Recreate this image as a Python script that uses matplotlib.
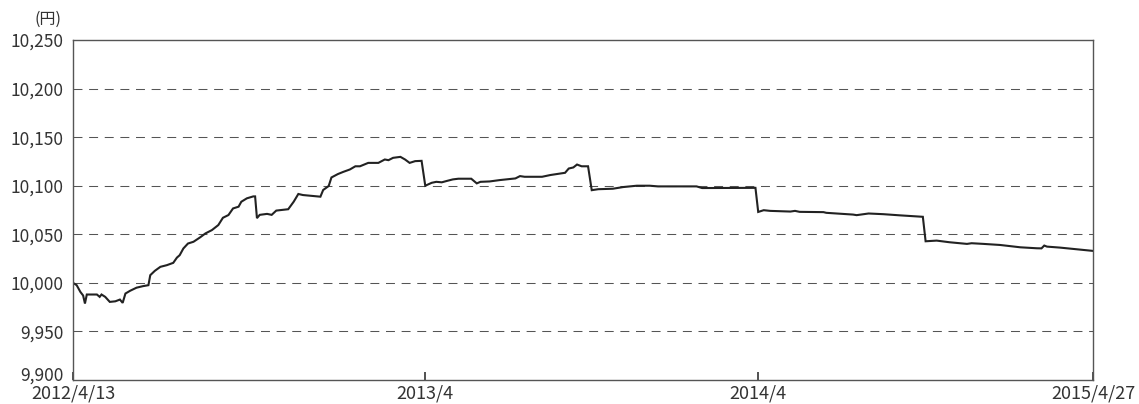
import matplotlib
matplotlib.use('Agg')
import matplotlib.pyplot as plt
import matplotlib.ticker as mticker
import matplotlib.transforms as mtransforms
import pandas as pd

plt.rcParams['font.family'] = ['Noto Sans CJK JP', 'DejaVu Sans']

# 基準価額の推移（設定日からの経過日数, 円）
start_date = '2012-04-13'
days = [0, 4, 8, 11, 13, 15, 26, 29, 31, 35, 40, 46, 51, 54, 57, 62, 69, 76, 82,
        84, 89, 95, 102, 109, 113, 116, 120, 125, 131, 138, 144, 151, 158, 163,
        169, 174, 180, 183, 189, 196, 198, 200, 203, 211, 216, 221, 234, 240,
        245, 250, 269, 272, 278, 281, 288, 294, 301, 307, 312, 321, 332, 339,
        343, 348, 356, 361, 366, 372, 379, 383, 390, 395, 401, 406, 413, 419,
        433, 439, 443, 453, 464, 481, 486, 491, 510, 519, 535, 539, 544, 548,
        553, 560, 564, 571, 587, 598, 613, 627, 636, 678, 684, 742, 745, 751,
        758, 780, 785, 790, 816, 819, 848, 852, 865, 881, 899, 924, 927, 939,
        953, 972, 977, 990, 1008, 1030, 1048, 1053, 1056, 1059, 1073, 1091, 1109]
nav = [10000, 9997.6, 9990.7, 9987, 9978.7, 9988, 9988, 9985.6, 9988, 9985.6,
       9980.4, 9981, 9982.8, 9979.4, 9989, 9991.8, 9995, 9996.6, 9997.6,
       10007.9, 10012.4, 10016.5, 10018.2, 10020.6, 10026, 10028.5, 10035.4,
       10040.5, 10042.3, 10046.7, 10050.9, 10054.3, 10059.5, 10067, 10069.8,
       10076.6, 10078.4, 10083.5, 10087, 10089, 10089, 10066.6, 10070, 10071,
       10070, 10074.4, 10075.8, 10083.6, 10091.5, 10090.4, 10088.7, 10095.6,
       10099.7, 10108.5, 10112, 10114.3, 10116.7, 10120, 10120, 10123.5,
       10123.5, 10127, 10126.3, 10128.7, 10129.7, 10127, 10123.5, 10125.3,
       10125.6, 10100, 10103, 10104, 10103.5, 10104.8, 10106.5, 10107.2,
       10107.2, 10102.4, 10104, 10104.4, 10105.8, 10107.5, 10109.9, 10109.2,
       10109.2, 10111, 10113.3, 10117.7, 10118.8, 10121.8, 10120, 10120,
       10095.4, 10096.4, 10096.9, 10098.6, 10100, 10100, 10099.3, 10099.3,
       10097.6, 10097.8, 10073, 10074.8, 10074.1, 10073.4, 10074.1, 10073.1,
       10072.8, 10072.1, 10070.3, 10069.7, 10071.4, 10070.7, 10069.5, 10068,
       10042.8, 10043.5, 10041.8, 10040.1, 10040.8, 10040.1, 10039, 10036.6,
       10035.6, 10035.5, 10038.4, 10037.3, 10036.3, 10034.6, 10032.9]

tick_days = [0, 383, 745, 1109]
tick_labels = ['2012/4/13', '2013/4', '2014/4', '2015/4/27']
y_ticks = [9900, 9950, 10000, 10050, 10100, 10150, 10200, 10250]

dates = pd.Timestamp(start_date) + pd.to_timedelta(days, unit='D')
tick_dates = pd.Timestamp(start_date) + pd.to_timedelta(tick_days, unit='D')

fig = plt.figure(figsize=(11.39, 4.04), dpi=100)
ax = fig.add_axes([73 / 1139, 24 / 404, 1020 / 1139, 340 / 404])

ax.plot(dates, nav, color='#222222', lw=1.5, solid_joinstyle='miter')

ax.set_xlim(tick_dates[0], tick_dates[-1])
ax.set_ylim(y_ticks[0], y_ticks[-1])
ax.set_yticks(y_ticks)
ax.yaxis.set_major_formatter(mticker.FuncFormatter(lambda v, p: '{:,.0f}'.format(v)))
ax.set_xticks(tick_dates)
ax.set_xticklabels(tick_labels)

ax.tick_params(axis='y', length=0, pad=7, labelsize=12.5, labelcolor='#333333')
ax.tick_params(axis='x', direction='in', length=6, width=1.2, color='#333333',
               pad=3.3, labelsize=13, labelcolor='#333333')

# 一番下の目盛ラベルは少し上にずらす
lab = ax.get_yticklabels()[0]
lab.set_transform(lab.get_transform() +
                  mtransforms.ScaledTranslation(0, 6 / 100, fig.dpi_scale_trans))

for y in y_ticks[1:-1]:
    ax.axhline(y, color='#555555', lw=0.75, ls=(0, (8.6, 6.4)), zorder=0)

for s in ax.spines.values():
    s.set_color('#555555')
    s.set_linewidth(1.0)

fig.text(48 / 1139, 1 - 19 / 404, '(円)', ha='center', va='center',
         fontsize=11.5, color='#333333')

fig.savefig('out.png', dpi=100)
